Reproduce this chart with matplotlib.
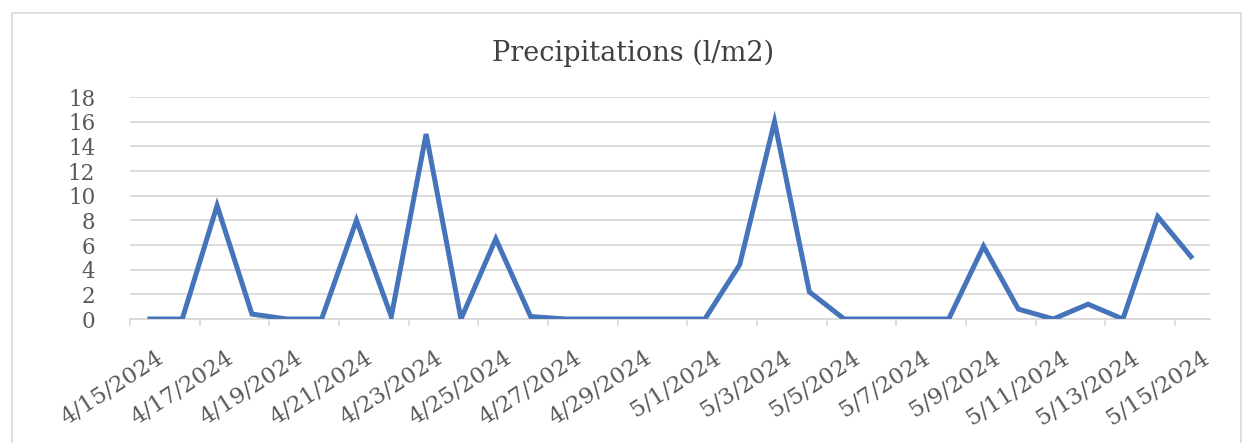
import matplotlib
matplotlib.use("Agg")
import matplotlib.pyplot as plt
from matplotlib.patches import Rectangle
import matplotlib.transforms as mtransforms
import numpy as np

dates = ["4/15/2024", "4/16/2024", "4/17/2024", "4/18/2024", "4/19/2024", "4/20/2024",
         "4/21/2024", "4/22/2024", "4/23/2024", "4/24/2024", "4/25/2024", "4/26/2024",
         "4/27/2024", "4/28/2024", "4/29/2024", "4/30/2024", "5/1/2024", "5/2/2024",
         "5/3/2024", "5/4/2024", "5/5/2024", "5/6/2024", "5/7/2024", "5/8/2024",
         "5/9/2024", "5/10/2024", "5/11/2024", "5/12/2024", "5/13/2024", "5/14/2024",
         "5/15/2024"]
precip = [0, 0, 9.2, 0.4, 0, 0,
          8.0, 0.2, 15.0, 0, 6.5, 0.2,
          0, 0, 0, 0, 0, 4.4,
          16.0, 2.2, 0, 0, 0, 0,
          5.9, 0.8, 0, 1.2, 0, 8.3,
          4.9]
yticks = [0, 2, 4, 6, 8, 10, 12, 14, 16, 18]
title = "Precipitations (l/m2)"

W, H = 1246, 443
fig = plt.figure(figsize=(W / 100, H / 100), dpi=100)
fig.patch.set_facecolor("white")

# chart border
fig.add_artist(Rectangle((12 / W, -0.05), (1241 - 12) / W, 1 - 13 / H + 0.05,
                         transform=fig.transFigure, fill=False,
                         edgecolor="#d9d9d9", linewidth=1.2))

left, right = 130 / W, 1210 / W
bottom, top = 1 - 319 / H, 1 - 97 / H
ax = fig.add_axes([left, bottom, right - left, top - bottom])

x = np.arange(len(dates))
ax.plot(x, precip, color="#4674BA", linewidth=3.6, solid_joinstyle="miter",
        solid_capstyle="butt", zorder=3)

ax.set_xlim(-0.5, len(dates) - 0.5)
ax.set_ylim(0, 18)
ax.set_yticks(yticks)
ax.set_yticklabels([str(v) for v in yticks])
ax.grid(axis="y", color="#d9d9d9", linewidth=1.3)
ax.set_axisbelow(True)

for s in ["top", "right", "left"]:
    ax.spines[s].set_visible(False)
ax.spines["bottom"].set_color("#d9d9d9")
ax.spines["bottom"].set_linewidth(1.3)

ax.set_xticks(x[::2])
ax.set_xticklabels(dates[::2])
ax.set_xticks(np.arange(-0.5, len(dates), 2), minor=True)
ax.tick_params(axis="x", which="major", length=0, pad=20)
ax.tick_params(axis="x", which="minor", length=5, color="#d9d9d9", width=1.2)
ax.tick_params(axis="y", length=0, pad=25)

offset = mtransforms.ScaledTranslation(8 / 100, 0, fig.dpi_scale_trans)
for lab in ax.get_xticklabels():
    lab.set_rotation(33)
    lab.set_ha("right")
    lab.set_va("top")
    lab.set_rotation_mode("anchor")
    lab.set_fontfamily("DejaVu Serif")
    lab.set_fontsize(16.5)
    lab.set_color("#595959")
    lab.set_transform(lab.get_transform() + offset)

for lab in ax.get_yticklabels():
    lab.set_fontfamily("DejaVu Serif")
    lab.set_fontsize(15.5)
    lab.set_color("#595959")

fig.text(633 / W, 1 - 53 / H, title, ha="center", va="center",
         fontfamily="DejaVu Serif", fontsize=19.5, color="#404040")

fig.savefig("out.png", dpi=100, facecolor="white")
